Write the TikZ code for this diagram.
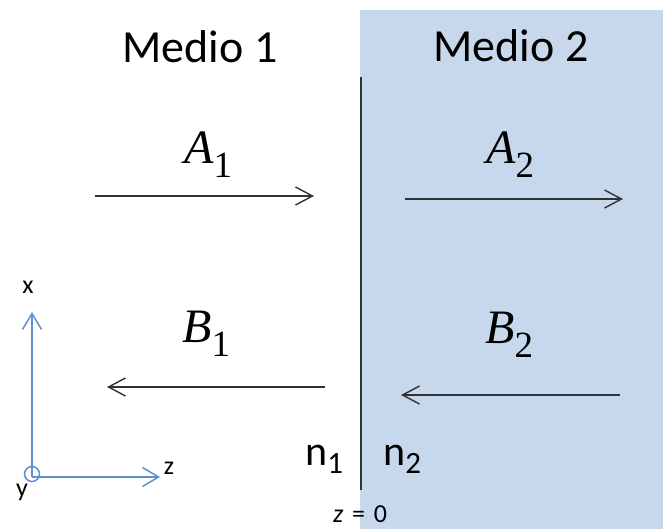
\documentclass[tikz,border=0pt]{standalone}
\usepackage{fontspec}
\setmainfont{Carlito}
\newfontfamily\serifit{Liberation Serif}
\usetikzlibrary{arrows.meta}
\definecolor{medio}{RGB}{200,216,236}
\definecolor{axisblue}{RGB}{95,143,205}
\definecolor{arrowgray}{RGB}{50,50,50}
\tikzset{
  wave/.style={draw=arrowgray, line width=1.4pt, -{Straight Barb[length=17pt,width=18pt,line width=1.4pt]}},
  axisline/.style={draw=axisblue, line width=1.5pt, -{Straight Barb[length=16pt,width=19pt,line width=1.5pt]}},
  medlabel/.style={inner sep=0pt, anchor=base, font=\fontsize{46}{50}\selectfont},
  amp/.style={inner sep=0pt, anchor=base west},
  axlabel/.style={inner sep=0pt, font=\fontsize{26}{28}\selectfont},
}
\newcommand{\Amp}[2]{{\serifit\itshape\fontsize{48}{50}\selectfont #1}\raisebox{-14pt}{\serifit\fontsize{37}{40}\selectfont #2}}
\newcommand{\Idx}[1]{{\fontsize{42}{46}\selectfont n}\raisebox{-8pt}{\fontsize{31}{34}\selectfont #1}}
\begin{document}
\begin{tikzpicture}[x=1pt,y=-1pt]
\useasboundingbox (0,0) rectangle (663,529);
\fill[medio] (360,10) rectangle (663,529);
% interface
\coordinate (ltop) at (361,77);
\coordinate (lbot) at (361,490);
\draw[arrowgray, line width=2pt] (ltop) -- (lbot);
% titles
\node[medlabel] (m1) at (200,63) {Medio 1};
\node[medlabel] (m2) at (511,62) {Medio 2};
% amplitudes
\node[amp] (a1) at (184,164) {\Amp{A}{1}};
\node[amp] (a2) at (486,164) {\Amp{A}{2}};
\node[amp] (b1) at (182,342) {\Amp{B}{1}};
\node[amp] (b2) at (485,343) {\Amp{B}{2}};
% wave arrows
\coordinate (a1s) at (95,196);  \coordinate (a1e) at (314,196);
\coordinate (a2s) at (405,199); \coordinate (a2e) at (623,199);
\coordinate (b1s) at (325,387); \coordinate (b1e) at (107,387);
\coordinate (b2s) at (620,395); \coordinate (b2e) at (401,395);
\draw[wave] (a1s) -- (a1e);
\draw[wave] (a2s) -- (a2e);
\draw[wave] (b1s) -- (b1e);
\draw[wave] (b2s) -- (b2e);
% indices
\node[amp] (n1) at (305,465) {\Idx{1}};
\node[amp] (n2) at (383,465) {\Idx{2}};
\node[amp, font=\fontsize{26}{28}\selectfont] (z0) at (333,522) {\textit{z}\,\,=\,\,0};
% axes
\coordinate (o) at (32,477);
\coordinate (xe) at (32,312);
\coordinate (ze) at (160,477);
\draw[axisline] (o) -- (xe);
\draw[axisline] (o) -- (ze);
\draw[axisblue, line width=1.5pt] (32,474) circle[radius=7.5];
\node[axlabel] (xl) at (28,287) {x};
\node[axlabel] (yl) at (22,492) {y};
\node[axlabel] (zl) at (169,468) {z};
\end{tikzpicture}
\end{document}
